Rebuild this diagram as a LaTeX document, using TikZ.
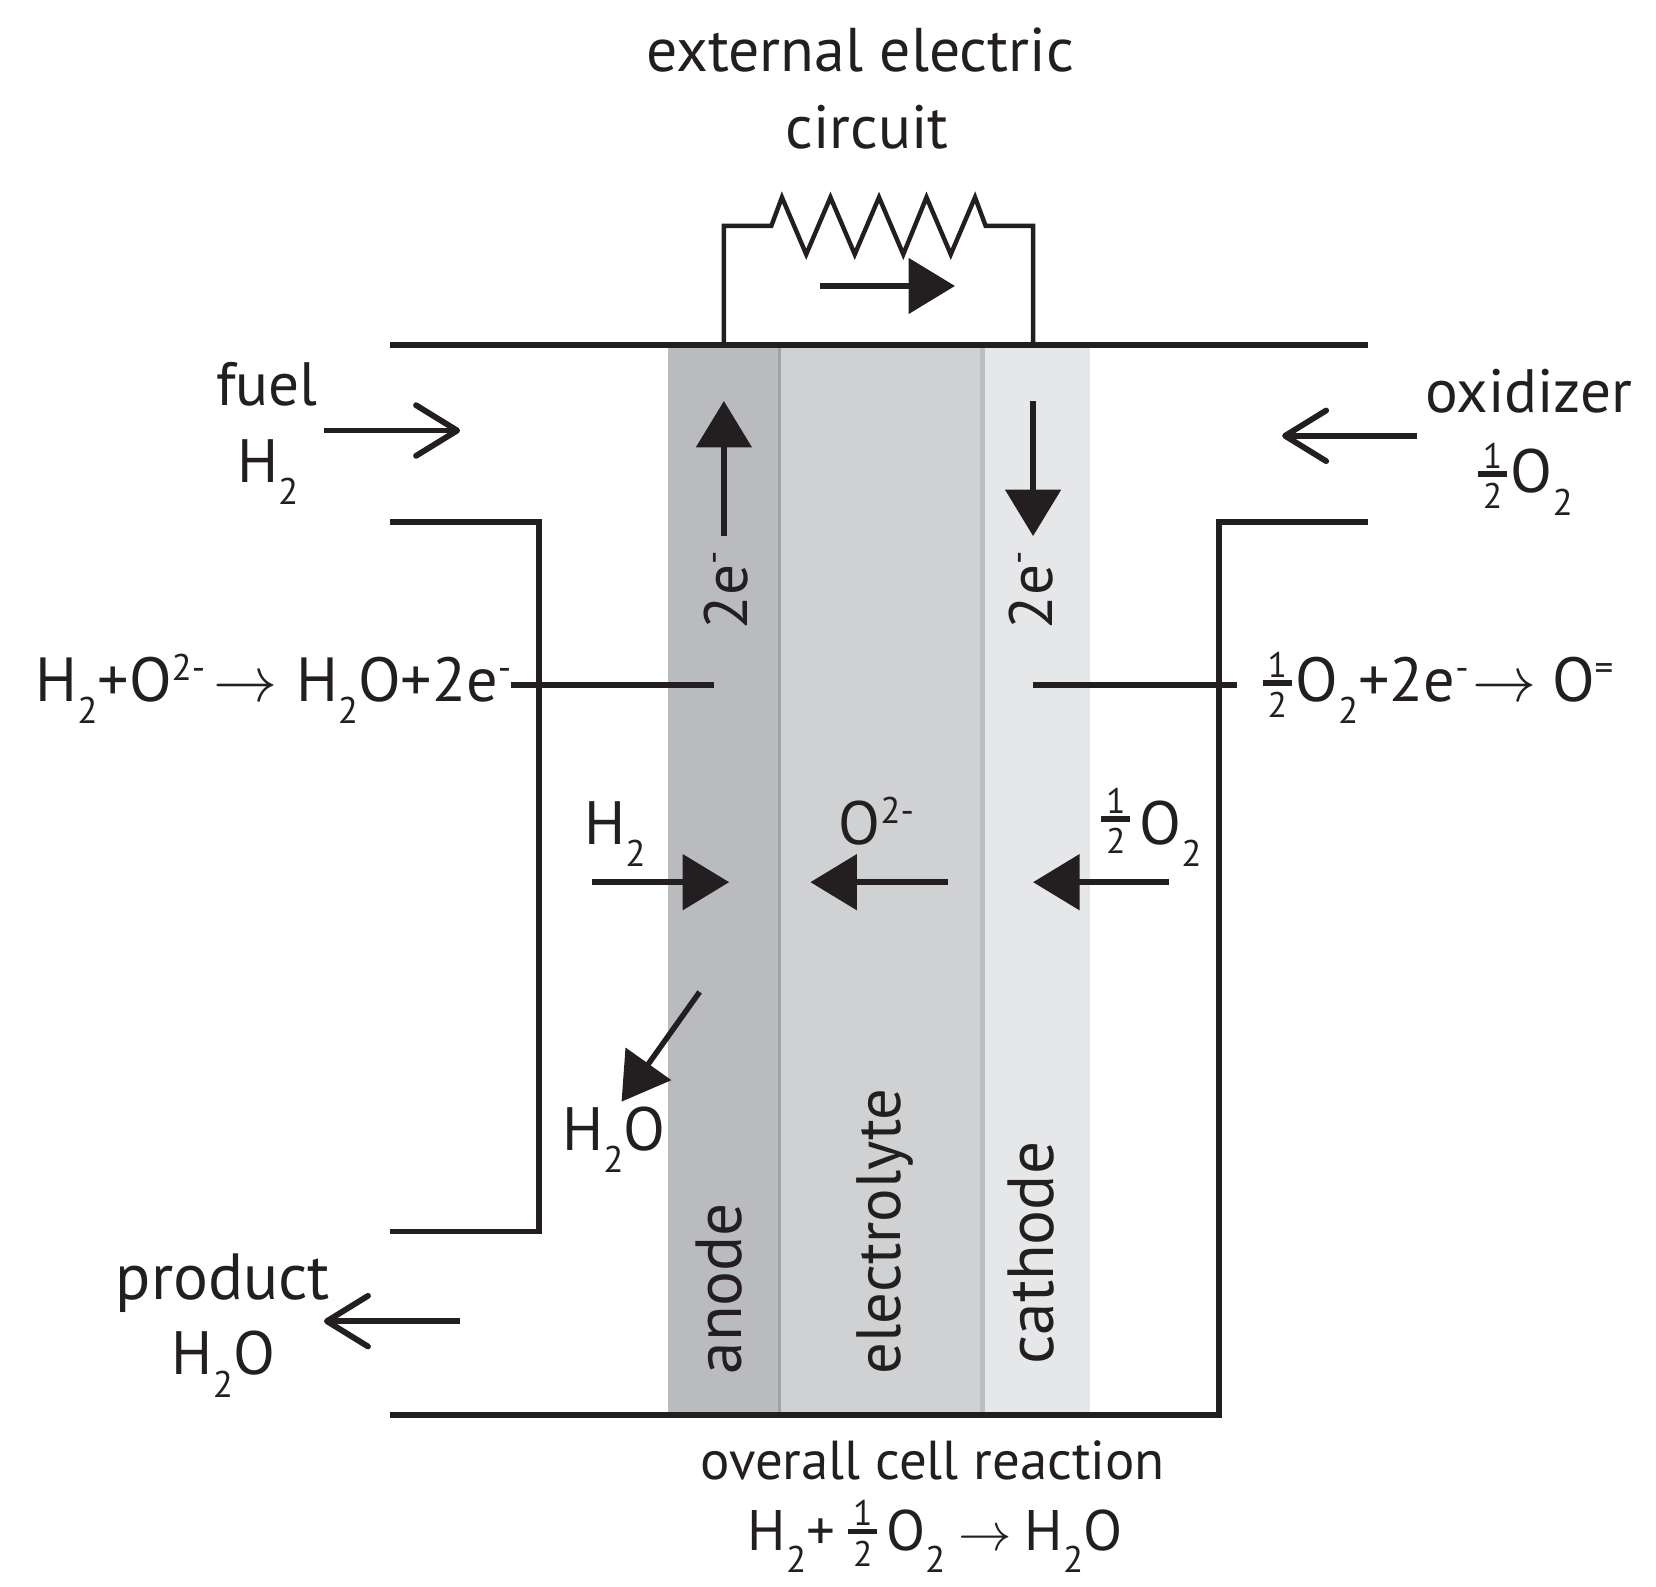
\documentclass[tikz,border=0pt]{standalone}
\usepackage{fontspec}
\setmainfont{PT Sans}
\usetikzlibrary{arrows.meta}
\definecolor{inkc}{HTML}{231F20}
\definecolor{anodec}{HTML}{B9BBBF}
\definecolor{anodeedge}{HTML}{A0A2A5}
\definecolor{electrolytec}{HTML}{CFD1D3}
\definecolor{cathodeedge}{HTML}{BBBDC0}
\definecolor{cathodec}{HTML}{E6E7E8}
\newcommand{\lowsub}[1]{\raisebox{-6pt}{\fontsize{10}{10}\selectfont #1}}
\newcommand{\highsup}[1]{\raisebox{5.7pt}{\fontsize{10}{10}\selectfont #1}}
\newcommand{\onehalf}{\mbox{\fontsize{9.6}{10}\selectfont
  \makebox[7.8pt][c]{\raisebox{6.6pt}{1}}%
  \llap{\makebox[7.8pt][c]{\raisebox{-4.3pt}{2}}}%
  \llap{\rule[4.3pt]{7.8pt}{1.5pt}}}}
\tikzset{
  lbl/.style={text=inkc, font=\fontsize{16.5}{20}\selectfont, inner sep=0pt, anchor=base west},
  lblreact/.style={lbl, font=\fontsize{16.8}{20}\selectfont},
  lblbig/.style={lbl, font=\fontsize{17.6}{20}\selectfont},
  lblsmall/.style={lbl, font=\fontsize{14.8}{20}\selectfont},
  wall/.style={draw=inkc, line width=0.55mm},
  thinwall/.style={draw=inkc, line width=0.42mm},
  solidarrow/.style={draw=inkc, line width=0.52mm, -{Triangle[length=4.4mm,width=5.2mm]}},
  openarrow/.style={draw=inkc, line width=0.55mm, -{Straight Barb[length=3.9mm,width=4.8mm,line width=0.55mm,round]}}
}
\begin{document}
\begin{tikzpicture}[x=0.1mm, y=-0.1mm]
  \useasboundingbox (0,0) rectangle (1569.3,1503);

  %layers of the cell
  \fill[anodec] (633,329) rectangle (737,1339);
  \fill[anodeedge] (737,329) rectangle (740,1339);
  \fill[electrolytec] (740,329) rectangle (929,1339);
  \fill[cathodeedge] (929,329) rectangle (933,1339);
  \fill[cathodec] (933,329) rectangle (1033,1339);

  %housing
  \draw[wall, line width=0.62mm] (370,327) -- (1296,327);
  \draw[wall] (370,495) -- (511,495) -- (511,1167) -- (370,1167);
  \draw[wall] (1296,495) -- (1155,495) -- (1155,1341) -- (370,1341);

  %resistor and its wires
  \draw[thinwall] (686,327) -- (686,214) -- (731,214) -- (741,187)
  -- (764,241) -- (787,187) -- (810,241) -- (833,187) -- (856,241)
  -- (878,187) -- (901,241) -- (924,187) -- (934,214) -- (979,214) -- (979,327);
  \draw[solidarrow] (777,271) -- (905,271);

  %gas arrows
  \draw[openarrow] (307,408) -- (436,408);
  \draw[openarrow] (1343,413) -- (1215,413);
  \draw[openarrow] (436,1252) -- (307,1252);

  %charge and species arrows
  \draw[solidarrow] (686,508) -- (686,380);
  \draw[solidarrow] (979,380) -- (979,508);
  \draw[solidarrow] (561,836) -- (691,836);
  \draw[solidarrow] (898,836) -- (768,836);
  \draw[solidarrow] (1108,836) -- (979,836);
  \draw[solidarrow] (663,940) -- (589,1044);

  %leader lines
  \draw[wall] (484,649) -- (677,649);
  \draw[wall] (979,649) -- (1172,649);

  %labels
  \node[lbl, font=\fontsize{16.65}{20}\selectfont] (circuita) at (612,68) {external electric};
  \node[lbl] (circuitb) at (744,141) {circuit};
  \node[lbl] (fuel) at (204,384) {fuel};
  \node[lbl] (fuelgas) at (224,457) {H\lowsub{2}};
  \node[lbl] (oxidizer) at (1350,391) {oxidizer};
  \node[lbl] (oxgas) at (1400,467) {\onehalf\hspace{1pt}O\lowsub{2}};
  \node[lblreact] (anodereact) at (33,665) {H\lowsub{2}+O\highsup{2-}\hspace{2.2pt}$\rightarrow$\hspace{5pt}H\lowsub{2}O+2e\highsup{-}};
  \node[lblreact] (cathodereact) at (1196,665) {\onehalf\hspace{1pt}O\lowsub{2}+2e\highsup{-}\hspace{1pt}$\rightarrow$\hspace{4.2pt}O\highsup{=}};
  \node[lbl] (hydrogen) at (553,800) {H\lowsub{2}};
  \node[lbl] (oxion) at (794,800) {O\highsup{2-}};
  \node[lbl] (oxygen) at (1043,800) {\raisebox{1.8pt}{\onehalf}\hspace{2.5pt}O\lowsub{2}};
  \node[lbl] (water) at (532,1090) {H\lowsub{2}O};
  \node[lblbig] (product) at (109,1231) {product};
  \node[lbl] (productgas) at (162,1303) {H\lowsub{2}O};
  \node[lblsmall] (overall) at (663,1402) {overall cell reaction};
  \node[lbl, font=\fontsize{15.4}{20}\selectfont] (overallreact) at (708,1469) {H\lowsub{2}+\hspace{3.5pt}\onehalf\hspace{2.4pt}O\lowsub{2}\hspace{3.5pt}$\rightarrow$\hspace{3.5pt}H\lowsub{2}O};

  %labels along the layers
  \node[lbl, rotate=90] (anodee) at (708,597) {2e\highsup{-}};
  \node[lbl, rotate=90] (cathodee) at (997,597) {2e\highsup{-}};
  \node[lblbig, rotate=90] (anodename) at (703,1303) {anode};
  \node[lbl, font=\fontsize{16.9}{20}\selectfont, rotate=90] (electrolytename) at (853,1303) {electrolyte};
  \node[lblbig, rotate=90] (cathodename) at (998,1294) {cathode};
\end{tikzpicture}
\end{document}
